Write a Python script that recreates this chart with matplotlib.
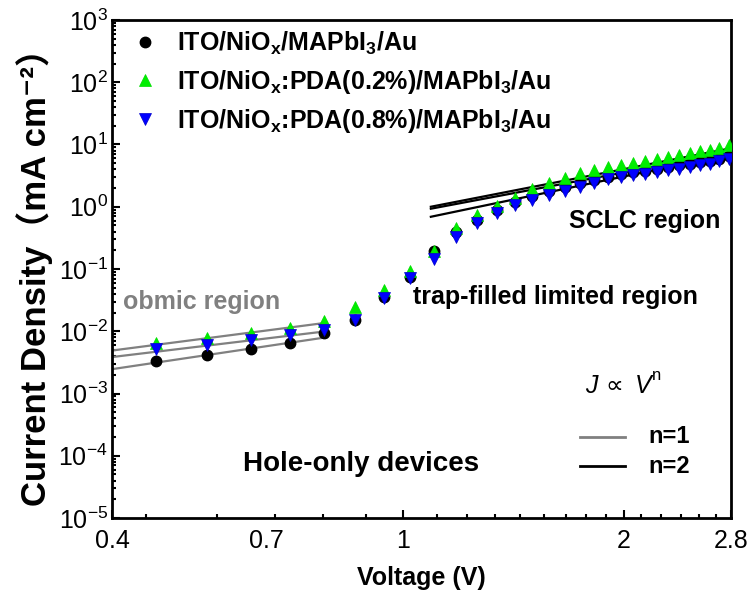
import matplotlib
matplotlib.use('Agg')
import matplotlib.pyplot as plt
from matplotlib.ticker import FixedLocator, NullFormatter

plt.rcParams['font.family'] = ['Liberation Sans', 'DejaVu Sans']
plt.rcParams['mathtext.default'] = 'regular'

# ---------------- data ----------------
voltage = [0.46, 0.54, 0.62, 0.70, 0.78, 0.86, 0.94, 1.02, 1.10, 1.18,
           1.26, 1.34, 1.42, 1.50, 1.58, 1.66, 1.74, 1.82, 1.90, 1.98,
           2.06, 2.14, 2.22, 2.30, 2.38, 2.46, 2.54, 2.62, 2.70, 2.78]

j_ref = [3.36e-3, 4.15e-3, 5.13e-3, 6.55e-3, 9.27e-3, 1.5e-2, 3.6e-2, 7.5e-2, 0.195, 0.40,
         0.62, 0.90, 1.20, 1.50, 1.80, 2.10, 2.40, 2.70, 3.00, 3.30,
         3.55, 3.80, 4.05, 4.30, 4.60, 4.90, 5.20, 5.50, 5.90, 6.50]

j_pda02 = [6.55e-3, 7.87e-3, 9.27e-3, 1.14e-2, 1.48e-2, 2.48e-2, 4.6e-2, 9.4e-2, 0.195, 0.451,
           0.736, 1.03, 1.37, 1.91, 2.38, 2.86, 3.44, 3.89, 4.30, 4.74,
           5.10, 5.50, 5.93, 6.30, 6.71, 7.23, 7.79, 8.26, 8.79, 9.82]

j_pda08 = [5.13e-3, 6.01e-3, 7.23e-3, 8.71e-3, 1.05e-2, 1.52e-2, 3.38e-2, 7.1e-2, 0.143, 0.330,
           0.542, 0.785, 1.07, 1.28, 1.55, 1.81, 2.05, 2.38, 2.80, 3.01,
           3.21, 3.39, 3.62, 3.85, 4.08, 4.35, 4.63, 4.91, 5.37, 5.93]

series_labels = [r'ITO/NiO$_{x}$/MAPbI$_{3}$/Au',
                 r'ITO/NiO$_{x}$:PDA(0.2%)/MAPbI$_{3}$/Au',
                 r'ITO/NiO$_{x}$:PDA(0.8%)/MAPbI$_{3}$/Au']

# fitted power-law guide lines (end points)
ohmic_fit_v = [0.40, 0.785]
ohmic_fit_j = [[4.9e-3, 1.37e-2], [3.85e-3, 1.0e-2], [2.46e-3, 8.0e-3]]
sclc_fit_v = [1.09, 2.80]
sclc_fit_j = [[1.0, 8.7], [0.93, 7.5], [0.69, 7.0]]

x_major = [0.4, 0.649, 1, 2, 2.8]
x_major_labels = ['0.4', '0.7', '1', '2', '2.8']
x_minor = [0.445, 0.557, 0.668, 0.777, 0.889,
           1.111, 1.222, 1.333, 1.444, 1.556, 1.667, 1.778, 1.889,
           2.11, 2.25, 2.39, 2.53, 2.67]
y_exponents = [-5, -4, -3, -2, -1, 0, 1, 2, 3]

# ---------------- figure ----------------
fig = plt.figure(figsize=(7.5, 5.95), dpi=100)
ax = fig.add_axes([0.1493, 0.1294, 0.8253, 0.837])
ax.set_xscale('log')
ax.set_yscale('log')

# fit lines
for fj in ohmic_fit_j:
    ax.plot(ohmic_fit_v, fj, color='#808080', lw=1.6, zorder=2)
for fj in sclc_fit_j:
    ax.plot(sclc_fit_v, fj, color='black', lw=1.6, zorder=2)

# data
h1, = ax.plot(voltage, j_ref, 'o', color='black', ms=7.5, mec='black', zorder=3,
              label=series_labels[0])
h2, = ax.plot(voltage, j_pda02, '^', color='#00ee00', ms=8.5, mec='#00dd00', mew=0.5,
              zorder=4, label=series_labels[1])
h3, = ax.plot(voltage, j_pda08, 'v', color='#0000ff', ms=8.5, mec='#0000cc', mew=0.5,
              zorder=5, label=series_labels[2])

ax.set_xlim(0.4, 2.8)
ax.set_ylim(1e-5, 1e3)

# ticks
ax.xaxis.set_major_locator(FixedLocator(x_major))
ax.set_xticklabels(x_major_labels)
ax.xaxis.set_minor_locator(FixedLocator(x_minor))
ax.xaxis.set_minor_formatter(NullFormatter())
ax.set_yticks([10.0 ** e for e in y_exponents])
ax.set_yticklabels([r'$10^{%d}$' % e for e in y_exponents])
ymin = []
for e in y_exponents[:-1]:
    for m in range(2, 10):
        ymin.append(m * 10.0 ** e)
ax.yaxis.set_minor_locator(FixedLocator(ymin))
ax.yaxis.set_minor_formatter(NullFormatter())

ax.tick_params(which='both', direction='in', top=False, right=False, width=1.5)
ax.tick_params(which='major', length=6, labelsize=18)
ax.tick_params(which='minor', length=3)
ax.tick_params(axis='x', which='major', pad=8)
ax.tick_params(axis='y', which='major', pad=3)
ax.xaxis.get_major_ticks()[1].tick1line.set_visible(False)

for sp in ax.spines.values():
    sp.set_linewidth(2)

ax.set_xlabel('Voltage (V)', fontsize=18, fontweight='bold', labelpad=9)
ax.set_ylabel('Current Density\uff08mA cm\u207b\u00b2\uff09', fontsize=25, fontweight='bold',
              family=['Liberation Sans', 'Noto Sans CJK SC', 'DejaVu Sans'], labelpad=4)

# legend
leg = ax.legend(handles=[h1, h2, h3], loc='upper left', bbox_to_anchor=(0.033, 0.981),
                frameon=False, prop={'weight': 'bold', 'size': 18},
                handlelength=1.0, handletextpad=0.8, borderpad=0, borderaxespad=0,
                labelspacing=0.44)

# annotations
ax.text(0.0178, 0.4337, 'obmic region', transform=ax.transAxes, fontsize=18,
        fontweight='bold', color='#808080', va='center', ha='left')
ax.text(0.486, 0.4438, 'trap-filled limited region', transform=ax.transAxes, fontsize=18,
        fontweight='bold', color='black', va='center', ha='left')
ax.text(0.738, 0.596, 'SCLC region', transform=ax.transAxes, fontsize=18,
        fontweight='bold', color='black', va='center', ha='left')
ax.text(0.2116, 0.1084, 'Hole-only devices', transform=ax.transAxes, fontsize=20,
        fontweight='bold', color='black', va='center', ha='left')

ax.text(0.764, 0.265, 'J', transform=ax.transAxes, fontsize=18, style='italic',
        va='center', ha='left')
ax.text(0.797, 0.265, '\u221d', transform=ax.transAxes, fontsize=18,
        family=['DejaVu Sans'], va='center', ha='left')
ax.text(0.845, 0.265, 'V', transform=ax.transAxes, fontsize=18, style='italic',
        va='center', ha='left')
ax.text(0.873, 0.287, 'n', transform=ax.transAxes, fontsize=12,
        va='center', ha='left')

ax.plot([0.756, 0.829], [0.1627, 0.1627], transform=ax.transAxes, color='#808080', lw=2)
ax.plot([0.756, 0.829], [0.1044, 0.1044], transform=ax.transAxes, color='black', lw=2)
ax.text(0.866, 0.1627, 'n=1', transform=ax.transAxes, fontsize=17, fontweight='bold',
        va='center', ha='left')
ax.text(0.866, 0.1044, 'n=2', transform=ax.transAxes, fontsize=17, fontweight='bold',
        va='center', ha='left')

fig.savefig('out.png', dpi=100)
